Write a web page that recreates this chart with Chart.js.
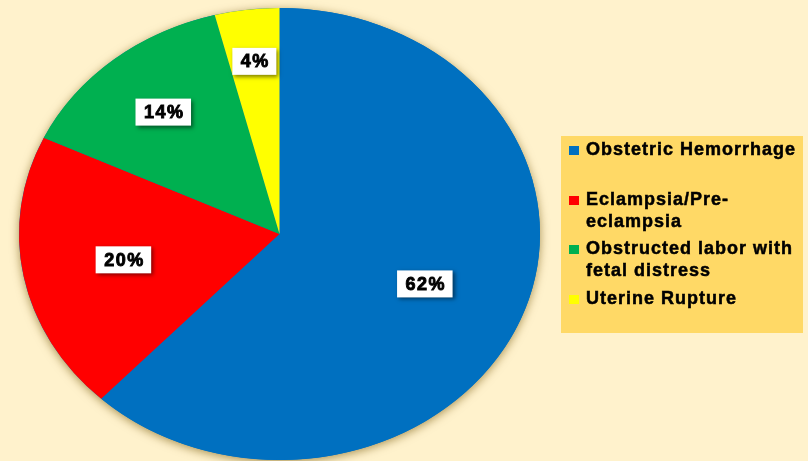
<!DOCTYPE html>
<html lang="en">
  <head>
    <meta charset="UTF-8" />
    <title>Causes of maternal death</title>
    <script src="https://cdn.jsdelivr.net/npm/chart.js@4.4.0/dist/chart.umd.min.js"></script>
    <style>
      body {
        margin: 0;
        background: #fff2cc;
        font-family: "Liberation Sans", Arial, sans-serif;
      }
      .wrap {
        position: relative;
        width: 808px;
        height: 461px;
      }
      .legend {
        position: absolute;
        left: 561px;
        top: 136px;
        width: 242px;
        height: 197px;
        box-sizing: border-box;
        background: #ffd966;
        padding: 2px 0 0 8px;
      }
      .legend .item {
        position: relative;
        height: 49.5px;
        padding-left: 17px;
        font-weight: bold;
        font-size: 18px;
        line-height: 22px;
        letter-spacing: 1px;
        color: #000;
        -webkit-text-stroke: 0.5px #000;
      }
      .legend .box {
        position: absolute;
        left: 0;
        top: 8px;
        width: 10px;
        height: 9px;
      }
    </style>
  </head>
  <body>
    <div class="wrap">
      <canvas id="pie"></canvas>
      <div class="legend" id="legend"></div>
    </div>

    <script>
      // data
      const causes = [
        "Obstetric Hemorrhage",
        "Eclampsia/Pre-eclampsia",
        "Obstructed labor with fetal distress",
        "Uterine Rupture",
      ];
      const shares = [62, 20, 14, 4];
      const colors = ["#0070c0", "#ff0000", "#00b050", "#ffff00"];

      // where each % label sits, as a fraction of the radius
      const labelRadius = [0.6, 0.61, 0.7, 0.77];
      const stretch = 260.5 / 226; // pie is drawn wider than tall

      // legend
      const legend = document.getElementById("legend");
      causes.forEach((name, i) => {
        const item = document.createElement("div");
        item.className = "item";
        const box = document.createElement("span");
        box.className = "box";
        box.style.background = colors[i];
        item.appendChild(box);
        item.appendChild(document.createTextNode(name));
        legend.appendChild(item);
      });

      // squash the arcs into an ellipse and put the boxed labels on top
      const ellipsePie = {
        id: "ellipsePie",
        beforeDatasetsDraw(chart) {
          const ctx = chart.ctx;
          const arc = chart.getDatasetMeta(0).data[0];
          const { x, y, outerRadius } = arc;
          ctx.save();
          ctx.save();
          ctx.shadowColor = "rgba(110, 80, 0, 0.6)";
          ctx.shadowBlur = 10;
          ctx.shadowOffsetY = 2;
          ctx.fillStyle = colors[0];
          ctx.beginPath();
          ctx.ellipse(x, y, outerRadius * stretch, outerRadius, 0, 0, Math.PI * 2);
          ctx.fill();
          ctx.restore();
          ctx.translate(x, 0);
          ctx.scale(stretch, 1);
          ctx.translate(-x, 0);
        },
        afterDatasetsDraw(chart) {
          const ctx = chart.ctx;
          ctx.restore();
          const meta = chart.getDatasetMeta(0);
          ctx.save();
          ctx.font = "bold 18px 'Liberation Sans', Arial, sans-serif";
          ctx.letterSpacing = "1.5px";
          ctx.textAlign = "center";
          ctx.textBaseline = "middle";
          meta.data.forEach((arc, i) => {
            const mid = (arc.startAngle + arc.endAngle) / 2;
            const r = arc.outerRadius * labelRadius[i];
            const px = arc.x + Math.cos(mid) * r * stretch;
            const py = arc.y + Math.sin(mid) * r;
            const text = shares[i] + "%";
            const w = ctx.measureText(text).width + 15;
            const h = 27;
            ctx.save();
            ctx.shadowColor = "rgba(0, 0, 0, 0.5)";
            ctx.shadowBlur = 4;
            ctx.shadowOffsetX = 2;
            ctx.shadowOffsetY = 2;
            ctx.fillStyle = "#ffffff";
            ctx.fillRect(px - w / 2, py - h / 2, w, h);
            ctx.restore();
            ctx.fillStyle = "#000000";
            ctx.strokeStyle = "#000000";
            ctx.lineWidth = 0.9;
            ctx.fillText(text, px + 1, py + 1);
            ctx.strokeText(text, px + 1, py + 1);
          });
          ctx.restore();
        },
      };

      new Chart(document.getElementById("pie"), {
        type: "pie",
        data: {
          labels: causes,
          datasets: [
            {
              data: shares,
              backgroundColor: colors,
              borderWidth: 0,
              hoverOffset: 0,
              clip: false,
            },
          ],
        },
        options: {
          responsive: true,
          maintainAspectRatio: false,
          animation: false,
          layout: {
            padding: { left: 53.5, right: 302.5, top: 8, bottom: 1 },
          },
          plugins: {
            legend: { display: false },
            tooltip: { enabled: false },
          },
        },
        plugins: [ellipsePie],
      });
    </script>
  </body>
</html>
